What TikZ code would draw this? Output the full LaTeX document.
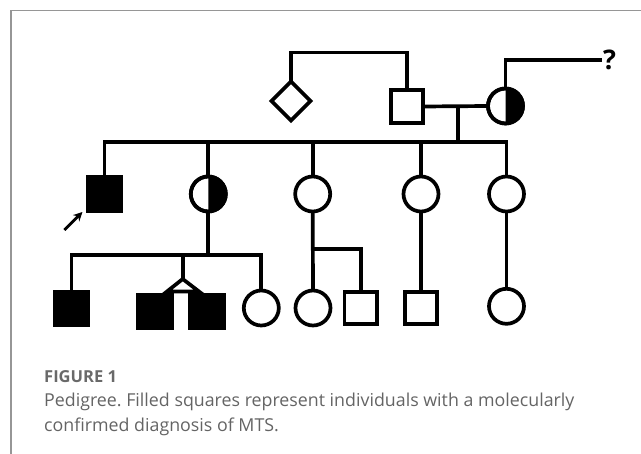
\documentclass[tikz,border=0pt]{standalone}
\usepackage{fontspec}
\setmainfont{Open Sans}
\usetikzlibrary{shapes.geometric,arrows.meta}
\definecolor{framegray}{RGB}{150,150,150}
\definecolor{capgray}{RGB}{100,100,100}
\definecolor{headgray}{RGB}{105,105,105}
\tikzset{
  lw/.style={line width=3.7pt},
  male/.style={rectangle, draw, lw, minimum size=32.5pt, inner sep=0pt, outer sep=0pt},
  malef/.style={male, fill=black, minimum size=34pt},
  female/.style={circle, draw, lw, minimum size=35pt, inner sep=0pt, outer sep=0pt},
  unknown/.style={diamond, draw, lw, minimum size=39pt, aspect=1, inner sep=0pt, outer sep=0pt},
  link/.style={lw, line join=miter},
}
\begin{document}
\frenchspacing
\begin{tikzpicture}[x=1pt,y=1pt]
\useasboundingbox (0,0) rectangle (641,-454);
% frame
\draw[framegray, line width=1.6pt] (11,-454) -- (11,-10.5) -- (641,-10.5);

% generation I
\node[unknown] (D) at (291,-101) {};
\node[male] (F1) at (407,-106.5) {};
\node[female] (M1) at (505.5,-106) {};
\fill (M1.south) arc[start angle=-90, end angle=90, radius=17.5pt] -- cycle;
\node[female] at (M1) {};
\coordinate (top1) at (0,-52.5);
\draw[link] (D.north) |- (F1.north |- top1) -- (F1.north);
\node[anchor=west, inner sep=1pt, font=\bfseries\fontsize{27}{27}\selectfont] (q) at (602,-60) {?};
\draw[link] (M1.north) |- (q.west);
\draw[link] (F1.east) -- (M1.west);
\coordinate (mid) at (457.7,-106);

% generation II
\coordinate (sib2) at (0,-141.7);
\node[malef] (P) at (104.5,-194) {};
\node[female] (II2) at (208.3,-194) {};
\fill (II2.south) arc[start angle=-90, end angle=90, radius=17.5pt] -- cycle;
\node[female] at (II2) {};
\node[female] (II3) at (312.7,-194) {};
\node[female] (II4) at (421,-194) {};
\node[female] (II5) at (506.5,-194) {};
\draw[link] (mid) -- (mid |- sib2);
\draw[link] (P.north) |- (II5.north |- sib2) -- (II5.north);
\draw[link] (II2.north) -- (II2.north |- sib2);
\draw[link] (II3.north) -- (II3.north |- sib2);
\draw[link] (II4.north) -- (II4.north |- sib2);
% proband arrow
\coordinate (arrS) at (64.3,-230);
\coordinate (arrE) at (82.5,-212);
\draw[line width=2.8pt, -{Stealth[length=9pt, width=9pt]}] (arrS) -- (arrE);

% generation III
\coordinate (sib3) at (0,-255);
\node[malef] (III1) at (71.5,-308.5) {};
\node[malef] (T1) at (154.7,-311.5) {};
\node[malef] (T2) at (207,-311.5) {};
\node[female] (III4) at (261.3,-308) {};
\node[female] (III5) at (313,-308) {};
\node[male] (III6) at (360.8,-308) {};
\node[male] (III7) at (421,-308) {};
\node[female] (III8) at (506.5,-306.3) {};
\draw[link] (III1.north) |- (III4.north |- sib3) -- (III4.north);
\draw[link] (II2.south) -- (II2.south |- sib3);
\coordinate (apex) at (182.7,-279);
\coordinate (tl) at (167,-291.5);
\coordinate (tr) at (199,-291.5);
\draw[link] (apex |- sib3) -- (apex);
\draw[link] (apex) -- (tl) -- (tr) -- cycle;
\coordinate (br) at (312.7,-249.3);
\draw[link] (II3.south) -- (III5.north);
\draw[link] (br) -| (III6.north);
\draw[link] (II4.south) -- (III7.north);
\draw[link] (II5.south) -- (III8.north);

% caption
\node[anchor=base west, inner sep=0pt, text=headgray, font=\bfseries\fontsize{16.5}{18}\selectfont] (fig) at (44,-383) {FIGURE 1};
\node[anchor=base west, inner sep=0pt, text=capgray, font=\fontsize{17.8}{22}\selectfont] (cap1) at (44,-406.5) {Pedigree. Filled squares represent individuals with a molecularly};
\node[anchor=base west, inner sep=0pt, text=capgray, font=\fontsize{17.8}{22}\selectfont] (cap2) at (44,-431.5) {confirmed diagnosis of MTS.};
\end{tikzpicture}
\end{document}
